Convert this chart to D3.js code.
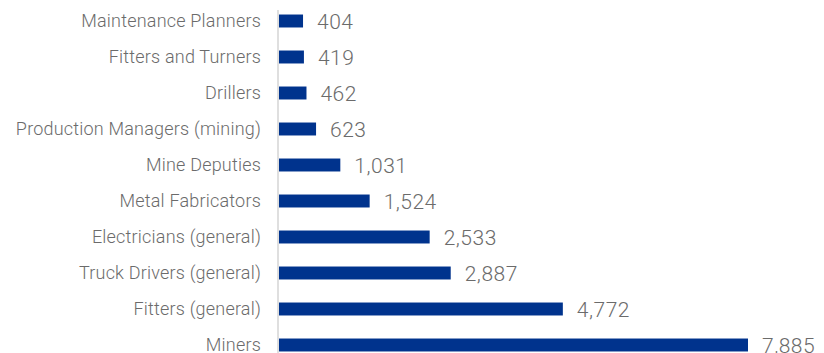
<!DOCTYPE html>
<html lang="en">
<head>
    <meta charset="UTF-8">
    <title>Occupations</title>
    <script src="https://d3js.org/d3.v7.min.js"></script>
    <style>
        body { margin: 0; background: #fff; font-family: Roboto, Arial, sans-serif; }
        svg { display: block; }
        .cat { fill: #6b6b6b; font-size: 18px; font-weight: 300; letter-spacing: 0.2px; }
        .val { fill: #6b6b6b; font-size: 21px; font-weight: 300; letter-spacing: 0.5px; }
    </style>
</head>
<body>
    <div id="chart"></div>
    <script>
        // Data
        const occupations = ["Maintenance Planners", "Fitters and Turners", "Drillers",
            "Production Managers (mining)", "Mine Deputies", "Metal Fabricators",
            "Electricians (general)", "Truck Drivers (general)", "Fitters (general)", "Miners"];
        const counts = [404, 419, 462, 623, 1031, 1524, 2533, 2887, 4772, 7885];

        const width = 824, height = 353;
        const axisX = 279;

        const svg = d3.select("#chart").append("svg")
            .attr("width", width)
            .attr("height", height);

        const rows = occupations.map((name, i) => ({ name, value: counts[i] }));

        const x = d3.scaleLinear()
            .domain([0, 7885])
            .range([axisX, 748]);

        const y = d3.scaleBand()
            .domain(occupations)
            .range([3, 363])
            .paddingInner(0.64)
            .paddingOuter(0.32);

        svg.selectAll(".bar")
            .data(rows)
            .enter().append("rect")
            .attr("x", x(0))
            .attr("y", d => y(d.name))
            .attr("width", d => x(d.value) - x(0))
            .attr("height", y.bandwidth())
            .attr("fill", "#00338d");

        // category axis line
        svg.append("line")
            .attr("x1", axisX - 1).attr("x2", axisX - 1)
            .attr("y1", 10).attr("y2", height)
            .attr("stroke", "#d4d4d4")
            .attr("stroke-width", 1.5);

        svg.selectAll(".cat")
            .data(rows)
            .enter().append("text")
            .attr("class", "cat")
            .attr("x", 261)
            .attr("y", d => y(d.name) + y.bandwidth() / 2)
            .attr("dy", "0.35em")
            .attr("text-anchor", "end")
            .text(d => d.name);

        svg.selectAll(".val")
            .data(rows)
            .enter().append("text")
            .attr("class", "val")
            .attr("x", d => x(d.value) + 14)
            .attr("y", d => y(d.name) + y.bandwidth() / 2 + 1)
            .attr("dy", "0.35em")
            .text(d => d3.format(",")(d.value));
    </script>
</body>
</html>
